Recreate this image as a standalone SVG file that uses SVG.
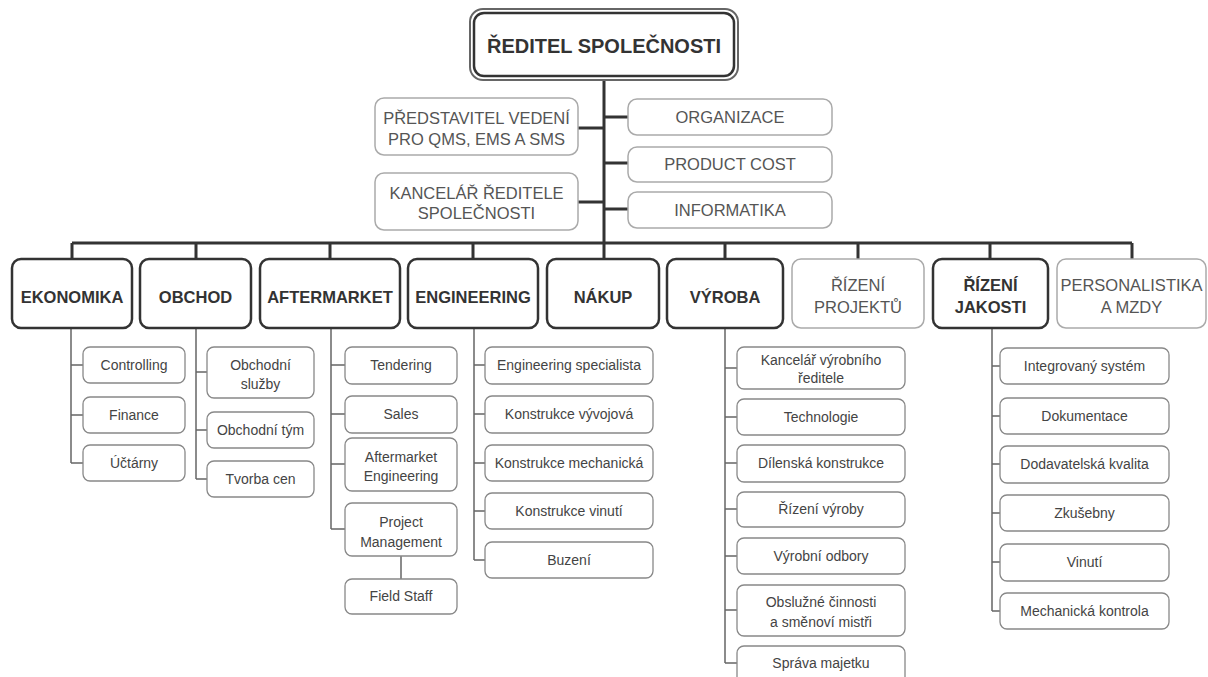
<svg xmlns="http://www.w3.org/2000/svg" width="1208" height="677" viewBox="0 0 1208 677">
<style>
text{font-family:"Liberation Sans",Arial,sans-serif;text-anchor:middle}
.dept{fill:#fff;stroke:#333;stroke-width:2.5}
.light{fill:#fff;stroke:#aaa;stroke-width:1.5}
.sub{fill:#fff;stroke:#888;stroke-width:1.3}
.main{stroke:#333;stroke-width:3;fill:none}
.thin{stroke:#666;stroke-width:1.5;fill:none}
.tt{font-size:20px;font-weight:bold;fill:#333}
.dt{font-size:16.5px;font-weight:bold;fill:#333}
.lt{font-size:16.5px;fill:#555}
.st{font-size:14px;fill:#444}
</style>
<rect width="1208" height="677" fill="#fff"/>
<g id="connectors">
<path class="main" d="M604 80V243M72 243H1132M72 243V259M196 243V259M330 243V259M473 243V259M604 243V259M725 243V259M858 243V259M990 243V259M1132 243V259"/>
<path class="main" d="M578 128H604M578 202H604M604 117H628M604 163H628M604 209H628"/>
<path class="thin" d="M71 328V463M71 365H83M71 415H83M71 463H83"/>
<path class="thin" d="M196 328V479M196 372H207M196 430H207M196 479H207"/>
<path class="thin" d="M331 328V529M331 365H345M331 414H345M331 464H345M331 529H345M401 556V579"/>
<path class="thin" d="M474 328V560M474 365H485M474 414H485M474 463H485M474 511H485M474 560H485"/>
<path class="thin" d="M725 328V663M725 368H737M725 417H737M725 463H737M725 509H737M725 556H737M725 610H737M725 663H737"/>
<path class="thin" d="M992 328V611M992 366H1000M992 416H1000M992 464H1000M992 513H1000M992 562H1000M992 611H1000"/>
</g>
<g id="reditel">
<rect x="470" y="9" width="268" height="71" rx="13" fill="#fff" stroke="#666" stroke-width="2"/>
<rect x="474" y="13" width="260" height="63" rx="10" fill="none" stroke="#333" stroke-width="2.5"/>
<text class="tt" x="604" y="53">ŘEDITEL SPOLEČNOSTI</text>
</g>
<g id="predstavitel"><rect class="light" x="375" y="98" width="203" height="57" rx="9"/><text class="lt" x="476.5" y="124">PŘEDSTAVITEL VEDENÍ</text><text class="lt" x="476.5" y="145">PRO QMS, EMS A SMS</text></g>
<g id="kancelar"><rect class="light" x="375" y="173" width="203" height="57" rx="9"/><text class="lt" x="476.5" y="199">KANCELÁŘ ŘEDITELE</text><text class="lt" x="476.5" y="219">SPOLEČNOSTI</text></g>
<g id="organizace"><rect class="light" x="628" y="99" width="204" height="36" rx="9"/><text class="lt" x="730" y="123">ORGANIZACE</text></g>
<g id="productcost"><rect class="light" x="628" y="147" width="204" height="35" rx="9"/><text class="lt" x="730" y="170">PRODUCT COST</text></g>
<g id="informatika"><rect class="light" x="628" y="192" width="204" height="36" rx="9"/><text class="lt" x="730" y="216">INFORMATIKA</text></g>

<g id="ekonomika"><rect class="dept" x="12" y="259" width="120" height="69" rx="9"/><text class="dt" x="72" y="303">EKONOMIKA</text></g>
<g id="obchod"><rect class="dept" x="140" y="259" width="111" height="69" rx="9"/><text class="dt" x="195.5" y="303">OBCHOD</text></g>
<g id="aftermarket"><rect class="dept" x="260" y="259" width="140" height="69" rx="9"/><text class="dt" x="330" y="303">AFTERMARKET</text></g>
<g id="engineering"><rect class="dept" x="408" y="259" width="130" height="69" rx="9"/><text class="dt" x="473" y="303">ENGINEERING</text></g>
<g id="nakup"><rect class="dept" x="547" y="259" width="112" height="69" rx="9"/><text class="dt" x="603" y="303">NÁKUP</text></g>
<g id="vyroba"><rect class="dept" x="667" y="259" width="116" height="69" rx="9"/><text class="dt" x="725" y="303">VÝROBA</text></g>
<g id="rizeni-projektu"><rect class="light" x="792" y="259" width="132" height="69" rx="9"/><text class="lt" x="858" y="291">ŘÍZENÍ</text><text class="lt" x="858" y="313">PROJEKTŮ</text></g>
<g id="rizeni-jakosti"><rect class="dept" x="933" y="259" width="115" height="69" rx="9"/><text class="dt" x="990.5" y="291">ŘÍZENÍ</text><text class="dt" x="990.5" y="313">JAKOSTI</text></g>
<g id="personalistika"><rect class="light" x="1057" y="259" width="149" height="69" rx="9"/><text class="lt" x="1131.5" y="291">PERSONALISTIKA</text><text class="lt" x="1131.5" y="313">A MZDY</text></g>

<g id="controlling"><rect class="sub" x="83" y="347" width="102" height="36" rx="7"/><text class="st" x="134" y="370">Controlling</text></g>
<g id="finance"><rect class="sub" x="83" y="397" width="102" height="36" rx="7"/><text class="st" x="134" y="420">Finance</text></g>
<g id="uctarny"><rect class="sub" x="83" y="445" width="102" height="36" rx="7"/><text class="st" x="134" y="468">Účtárny</text></g>

<g id="obchodni-sluzby"><rect class="sub" x="207" y="347" width="107" height="51" rx="7"/><text class="st" x="260.5" y="370">Obchodní</text><text class="st" x="260.5" y="389">služby</text></g>
<g id="obchodni-tym"><rect class="sub" x="207" y="412" width="107" height="36" rx="7"/><text class="st" x="260.5" y="435">Obchodní tým</text></g>
<g id="tvorba-cen"><rect class="sub" x="207" y="461" width="107" height="36" rx="7"/><text class="st" x="260.5" y="484">Tvorba cen</text></g>

<g id="tendering"><rect class="sub" x="345" y="347" width="112" height="37" rx="7"/><text class="st" x="401" y="370">Tendering</text></g>
<g id="sales"><rect class="sub" x="345" y="396" width="112" height="37" rx="7"/><text class="st" x="401" y="419">Sales</text></g>
<g id="aftermarket-engineering"><rect class="sub" x="345" y="438" width="112" height="53" rx="7"/><text class="st" x="401" y="462">Aftermarket</text><text class="st" x="401" y="481">Engineering</text></g>
<g id="project-management"><rect class="sub" x="345" y="503" width="112" height="53" rx="7"/><text class="st" x="401" y="527">Project</text><text class="st" x="401" y="547">Management</text></g>
<g id="field-staff"><rect class="sub" x="345" y="579" width="112" height="35" rx="7"/><text class="st" x="401" y="601">Field Staff</text></g>

<g id="eng-specialista"><rect class="sub" x="485" y="347" width="168" height="37" rx="7"/><text class="st" x="569" y="370">Engineering specialista</text></g>
<g id="konstrukce-vyvojova"><rect class="sub" x="485" y="396" width="168" height="37" rx="7"/><text class="st" x="569" y="419">Konstrukce vývojová</text></g>
<g id="konstrukce-mechanicka"><rect class="sub" x="485" y="445" width="168" height="36" rx="7"/><text class="st" x="569" y="468">Konstrukce mechanická</text></g>
<g id="konstrukce-vinuti"><rect class="sub" x="485" y="493" width="168" height="36" rx="7"/><text class="st" x="569" y="516">Konstrukce vinutí</text></g>
<g id="buzeni"><rect class="sub" x="485" y="542" width="168" height="36" rx="7"/><text class="st" x="569" y="565">Buzení</text></g>

<g id="kancelar-vyrobniho"><rect class="sub" x="737" y="347" width="168" height="42" rx="7"/><text class="st" x="821" y="365">Kancelář výrobního</text><text class="st" x="821" y="383">ředitele</text></g>
<g id="technologie"><rect class="sub" x="737" y="399" width="168" height="36" rx="7"/><text class="st" x="821" y="422">Technologie</text></g>
<g id="dilenska"><rect class="sub" x="737" y="445" width="168" height="37" rx="7"/><text class="st" x="821" y="468">Dílenská konstrukce</text></g>
<g id="rizeni-vyroby"><rect class="sub" x="737" y="492" width="168" height="35" rx="7"/><text class="st" x="821" y="514">Řízení výroby</text></g>
<g id="vyrobni-odbory"><rect class="sub" x="737" y="538" width="168" height="36" rx="7"/><text class="st" x="821" y="561">Výrobní odbory</text></g>
<g id="obsluzne"><rect class="sub" x="737" y="585" width="168" height="51" rx="7"/><text class="st" x="821" y="607">Obslužné činnosti</text><text class="st" x="821" y="627">a směnoví mistři</text></g>
<g id="sprava-majetku"><rect class="sub" x="737" y="646" width="168" height="38" rx="7"/><text class="st" x="821" y="668">Správa majetku</text></g>

<g id="integrovany"><rect class="sub" x="1000" y="348" width="169" height="36" rx="7"/><text class="st" x="1084.5" y="371">Integrovaný systém</text></g>
<g id="dokumentace"><rect class="sub" x="1000" y="398" width="169" height="36" rx="7"/><text class="st" x="1084.5" y="421">Dokumentace</text></g>
<g id="dodavatelska"><rect class="sub" x="1000" y="446" width="169" height="37" rx="7"/><text class="st" x="1084.5" y="469">Dodavatelská kvalita</text></g>
<g id="zkusebny"><rect class="sub" x="1000" y="495" width="169" height="36" rx="7"/><text class="st" x="1084.5" y="518">Zkušebny</text></g>
<g id="vinuti"><rect class="sub" x="1000" y="544" width="169" height="37" rx="7"/><text class="st" x="1084.5" y="567">Vinutí</text></g>
<g id="mechanicka-kontrola"><rect class="sub" x="1000" y="593" width="169" height="36" rx="7"/><text class="st" x="1084.5" y="616">Mechanická kontrola</text></g>
</svg>
